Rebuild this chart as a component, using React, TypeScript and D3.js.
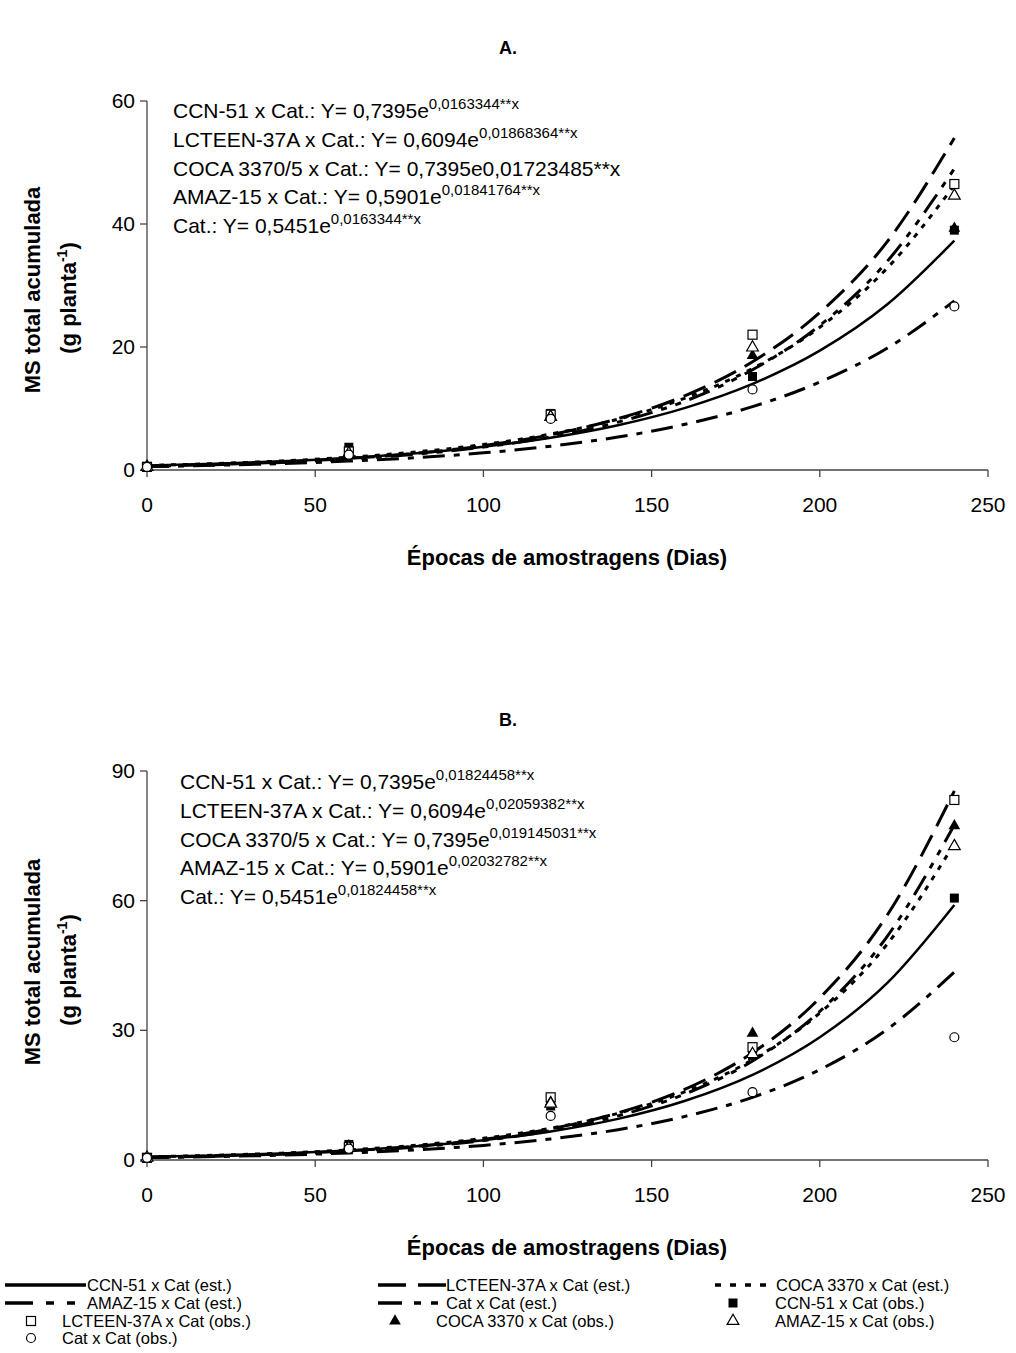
import React from 'react';
import * as d3 from 'd3';

// sampling days
const days = [0, 60, 120, 180, 240];
const fitDays = [0, 20, 40, 60, 80, 100, 120, 140, 160, 180, 200, 220, 240];
const xTicks = [0, 50, 100, 150, 200, 250];

// panel A observed
const obsA_ccn = [0.6, 3.7, 9.2, 15.2, 39.0];
const obsA_lct = [0.5, 3.0, 9.0, 22.0, 46.5];
const obsA_coca = [0.6, 2.8, 8.8, 18.6, 39.3];
const obsA_amaz = [0.5, 2.7, 8.6, 19.9, 44.6];
const obsA_cat = [0.5, 2.5, 8.3, 13.1, 26.6];
// panel A estimated curves
const estA_ccn = [0.74, 1.03, 1.42, 1.97, 2.73, 3.79, 5.25, 7.28, 10.1, 14.0, 19.4, 26.9, 37.3];
const estA_lct = [0.61, 0.89, 1.29, 1.87, 2.72, 3.95, 5.74, 8.34, 12.1, 17.6, 25.6, 37.1, 54.0];
const estA_coca = [0.74, 1.04, 1.47, 2.08, 2.94, 4.14, 5.85, 8.26, 11.7, 16.5, 23.2, 32.8, 46.3];
const estA_amaz = [0.59, 0.85, 1.23, 1.78, 2.58, 3.72, 5.38, 7.78, 11.2, 16.3, 23.5, 33.9, 49.0];
const estA_cat = [0.55, 0.76, 1.05, 1.45, 2.01, 2.79, 3.87, 5.36, 7.44, 10.3, 14.3, 19.8, 27.5];

// panel B observed
const obsB_ccn = [0.6, 3.6, 12.5, 24.2, 60.6];
const obsB_lct = [0.5, 3.0, 14.5, 26.1, 83.3];
const obsB_coca = [0.6, 3.3, 13.4, 29.3, 77.3];
const obsB_amaz = [0.5, 2.8, 13.0, 24.5, 72.6];
const obsB_cat = [0.5, 2.6, 10.2, 15.7, 28.4];
// panel B estimated curves
const estB_ccn = [0.74, 1.07, 1.53, 2.21, 3.18, 4.58, 6.6, 9.51, 13.7, 19.7, 28.4, 40.9, 59.0];
const estB_lct = [0.61, 0.92, 1.39, 2.1, 3.17, 4.78, 7.21, 10.9, 16.4, 24.8, 37.5, 56.6, 85.4];
const estB_coca = [0.74, 1.09, 1.59, 2.33, 3.42, 5.02, 7.36, 10.8, 15.8, 23.2, 34.0, 49.9, 73.2];
const estB_amaz = [0.59, 0.89, 1.33, 2.0, 3.0, 4.51, 6.77, 10.2, 15.3, 22.9, 34.4, 51.7, 77.5];
const estB_cat = [0.55, 0.79, 1.13, 1.63, 2.35, 3.38, 4.87, 7.01, 10.1, 14.5, 20.9, 30.2, 43.5];

const eqA = [
  ['CCN-51 x Cat.: Y= 0,7395e', '0,0163344**x'],
  ['LCTEEN-37A x Cat.: Y= 0,6094e', '0,01868364**x'],
  ['COCA 3370/5 x Cat.: Y= 0,7395e0,01723485**x', ''],
  ['AMAZ-15 x Cat.: Y= 0,5901e', '0,01841764**x'],
  ['Cat.: Y= 0,5451e', '0,0163344**x'],
];
const eqB = [
  ['CCN-51 x Cat.: Y= 0,7395e', '0,01824458**x'],
  ['LCTEEN-37A x Cat.: Y= 0,6094e', '0,02059382**x'],
  ['COCA 3370/5 x Cat.: Y= 0,7395e', '0,019145031**x'],
  ['AMAZ-15 x Cat.: Y= 0,5901e', '0,02032782**x'],
  ['Cat.: Y= 0,5451e', '0,01824458**x'],
];

const styles = {
  ccn: { dash: '', legend: '', w: 2.5 },
  lct: { dash: '24,10', legend: '28,12,30', w: 3 },
  coca: { dash: '5,7', legend: '6,9', w: 3 },
  amaz: { dash: '22,9,6,9,6,9', legend: '28,13,8,13,8,11', w: 3 },
  cat: { dash: '22,9,6,9', legend: '24,12,7,10,7,8', w: 3 },
};

const FONT = 'Liberation Sans, Arial, sans-serif';

function Marker({ kind, x, y }: { kind: string; x: number; y: number }) {
  if (kind === 'sqFill') return <rect x={x - 4.5} y={y - 4.5} width={9} height={9} fill="#000" />;
  if (kind === 'sqOpen') return <rect x={x - 4.5} y={y - 4.5} width={9} height={9} fill="#fff" stroke="#000" strokeWidth={1.2} />;
  const tri = d3.symbol().type(d3.symbolTriangle).size(60)() as string;
  if (kind === 'triFill') return <path d={tri} transform={`translate(${x},${y})`} fill="#000" />;
  if (kind === 'triOpen') return <path d={tri} transform={`translate(${x},${y})`} fill="#fff" stroke="#000" strokeWidth={1.2} />;
  return <circle cx={x} cy={y} r={4.5} fill="#fff" stroke="#000" strokeWidth={1.2} />;
}

function Panel(props: any) {
  const { title, titleY, yMax, yStep, top, bottom, est, obs, eqs, eqX, eqY0, eqStep, labelY } = props;
  const x = d3.scaleLinear().domain([0, 250]).range([147, 988]);
  const y = d3.scaleLinear().domain([0, yMax]).range([bottom, top]);
  const line = d3.line<number>().x((_, i) => x(fitDays[i])).y((d) => y(d)).curve(d3.curveMonotoneX);
  const yTicks = d3.range(0, yMax + 1, yStep);
  const keys = ['ccn', 'lct', 'coca', 'amaz', 'cat'];
  const mk = ['sqFill', 'sqOpen', 'triFill', 'triOpen', 'circle'];
  return (
    <g>
      <text x={508} y={titleY} textAnchor="middle" fontFamily={FONT} fontWeight="bold" fontSize={18}>{title}</text>
      {/* axes */}
      <line x1={x(0)} x2={x(250)} y1={bottom} y2={bottom} stroke="#444" strokeWidth={1.3} />
      <line x1={x(0)} x2={x(0)} y1={top} y2={bottom} stroke="#444" strokeWidth={1.3} />
      {xTicks.map((t) => (
        <g key={t}>
          <line x1={x(t)} x2={x(t)} y1={bottom} y2={bottom + 7} stroke="#444" strokeWidth={1.3} />
          <text x={x(t)} y={bottom + 42} textAnchor="middle" fontFamily={FONT} fontSize={21}>{t}</text>
        </g>
      ))}
      {yTicks.map((t) => (
        <g key={t}>
          <line x1={x(0) - 7} x2={x(0)} y1={y(t)} y2={y(t)} stroke="#444" strokeWidth={1.3} />
          <text x={x(0) - 12} y={y(t) + 7} textAnchor="end" fontFamily={FONT} fontSize={21}>{t}</text>
        </g>
      ))}
      <text x={567} y={bottom + 95} textAnchor="middle" fontFamily={FONT} fontWeight="bold" fontSize={22}>Épocas de amostragens (Dias)</text>
      <text transform={`translate(40,${labelY}) rotate(-90)`} textAnchor="middle" fontFamily={FONT} fontWeight="bold" fontSize={22}>MS total acumulada</text>
      <text transform={`translate(76,${labelY + 8}) rotate(-90)`} textAnchor="middle" fontFamily={FONT} fontWeight="bold" fontSize={22}>
        (g planta<tspan dy={-9} fontSize={14}>-1</tspan><tspan dy={9}>)</tspan>
      </text>
      {/* equations */}
      {eqs.map((e: string[], i: number) => (
        <text key={i} x={eqX} y={eqY0 + i * eqStep} fontFamily={FONT} fontSize={21}>
          {e[0]}
          {e[1] && <tspan dy={-9} fontSize={15}>{e[1]}</tspan>}
        </text>
      ))}
      {/* estimated curves */}
      {keys.map((k, i) => (
        <path key={k} d={line(est[i]) as string} fill="none" stroke="#000" strokeWidth={(styles as any)[k].w}
          strokeDasharray={(styles as any)[k].dash} />
      ))}
      {/* observed points */}
      {keys.map((k, i) => (
        <g key={k}>
          {obs[i].map((v: number, j: number) => (
            <Marker key={j} kind={mk[i]} x={x(days[j])} y={y(v)} />
          ))}
        </g>
      ))}
    </g>
  );
}

function Legend() {
  const rows = [1285, 1303, 1321, 1338];
  const ln = (x1: number, x2: number, yy: number, k: string) => (
    <line x1={x1} x2={x2} y1={yy} y2={yy} stroke="#000" strokeWidth={3.5} strokeDasharray={(styles as any)[k].legend} />
  );
  const t = (xx: number, yy: number, s: string) => (
    <text x={xx} y={yy + 6} fontFamily={FONT} fontSize={16.5}>{s}</text>
  );
  return (
    <g>
      {ln(5, 86, rows[0], 'ccn')}{t(87, rows[0], 'CCN-51 x Cat (est.)')}
      {ln(378, 446, rows[0], 'lct')}{t(446, rows[0], 'LCTEEN-37A x Cat (est.)')}
      {ln(715, 775, rows[0], 'coca')}{t(776, rows[0], 'COCA 3370 x Cat (est.)')}
      {ln(5, 86, rows[1], 'amaz')}{t(87, rows[1], 'AMAZ-15  x Cat (est.)')}
      {ln(378, 446, rows[1], 'cat')}{t(446, rows[1], 'Cat x Cat (est.)')}
      <Marker kind="sqFill" x={733} y={rows[1]} />{t(775, rows[1], 'CCN-51 x Cat (obs.)')}
      <Marker kind="sqOpen" x={31} y={rows[2]} />{t(62, rows[2], 'LCTEEN-37A x Cat (obs.)')}
      <Marker kind="triFill" x={395} y={rows[2]} />{t(436, rows[2], 'COCA 3370 x Cat (obs.)')}
      <Marker kind="triOpen" x={733} y={rows[2]} />{t(775, rows[2], 'AMAZ-15 x Cat (obs.)')}
      <Marker kind="circle" x={31} y={rows[3]} />{t(62, rows[3], 'Cat x Cat (obs.)')}
    </g>
  );
}

export default function App() {
  return (
    <svg width={1016} height={1353} style={{ position: 'absolute', left: 0, top: 0, background: '#fff' }}>
      <rect width={1016} height={1353} fill="#fff" />
      <Panel title="A." titleY={54} yMax={60} yStep={20} top={101} bottom={470}
        est={[estA_ccn, estA_lct, estA_coca, estA_amaz, estA_cat]}
        obs={[obsA_ccn, obsA_lct, obsA_coca, obsA_amaz, obsA_cat]}
        eqs={eqA} eqX={173} eqY0={118} eqStep={28.8} labelY={290} />
      <Panel title="B." titleY={726} yMax={90} yStep={30} top={771} bottom={1160}
        est={[estB_ccn, estB_lct, estB_coca, estB_amaz, estB_cat]}
        obs={[obsB_ccn, obsB_lct, obsB_coca, obsB_amaz, obsB_cat]}
        eqs={eqB} eqX={180} eqY0={789} eqStep={28.8} labelY={962} />
      <Legend />
    </svg>
  );
}
